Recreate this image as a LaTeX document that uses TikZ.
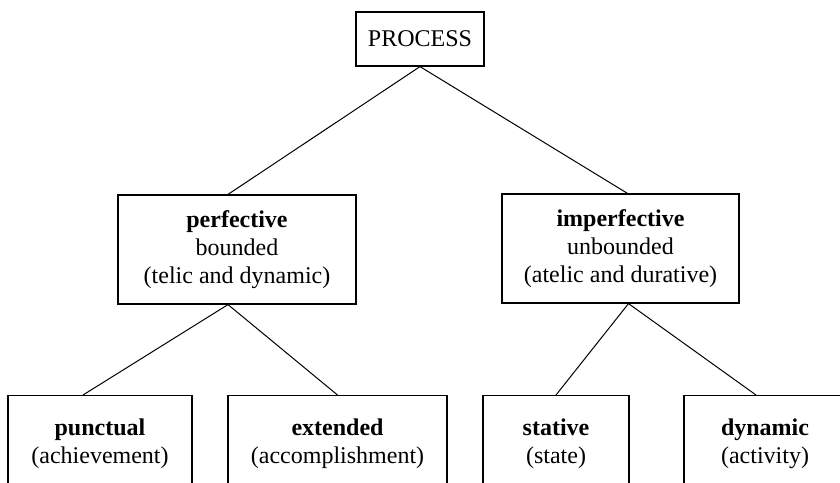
\documentclass[tikz,border=0pt]{standalone}
\usepackage{fontspec}
\setmainfont{Liberation Serif}
\begin{document}
\begin{tikzpicture}[x=0.5pt,y=-0.5pt,
  box/.style={draw, line width=0.6pt, inner sep=0pt, align=center,
    font=\fontsize{12}{14}\selectfont},
  leaf/.style={box, anchor=north, minimum height=48pt},
  edge/.style={draw, line width=0.5pt}]
\path[use as bounding box, clip] (0,0) rectangle (840,482);
\node[box, minimum width=64pt, minimum height=27pt] (proc) at (420,39) {PROCESS};
\node[box, minimum width=119pt, minimum height=54.5pt] (perf) at (237,249.5)
  {\textbf{perfective}\\bounded\\(telic and dynamic)};
\node[box, minimum width=118.5pt, minimum height=54.5pt] (imperf) at (620.5,248.5)
  {\textbf{imperfective}\\unbounded\\(atelic and durative)};
\node[leaf, minimum width=92pt] (punct) at (100,395) {\textbf{punctual}\\(achievement)};
\node[leaf, minimum width=109.5pt] (ext) at (337.5,395) {\textbf{extended}\\(accomplishment)};
\node[leaf, minimum width=73pt] (stat) at (556,395) {\textbf{stative}\\(state)};
\node[leaf, minimum width=81pt] (dyn) at (765,395) {\textbf{dynamic}\\(activity)};
\draw[edge] (proc.south) -- ([xshift=-4.5pt]perf.north);
\draw[edge] (proc.south) -- ([xshift=3.5pt]imperf.north);
\draw[edge] ([xshift=-4.5pt]perf.south) -- ([xshift=-8.5pt]punct.north);
\draw[edge] ([xshift=-4.5pt]perf.south) -- (ext.north);
\draw[edge] ([xshift=4pt]imperf.south) -- (stat.north);
\draw[edge] ([xshift=4pt]imperf.south) -- ([xshift=-4.5pt]dyn.north);
\end{tikzpicture}
\end{document}
